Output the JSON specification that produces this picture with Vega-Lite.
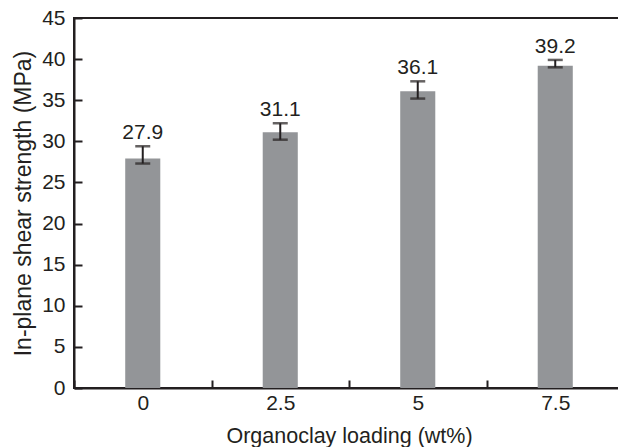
{
  "$schema": "https://vega.github.io/schema/vega-lite/v6.json",
  "autosize": "none",
  "width": 550,
  "height": 370,
  "padding": {"left": 74, "top": 18, "right": 0, "bottom": 59},
  "background": "white",
  "config": {
    "font": "Liberation Sans",
    "view": {"stroke": "#231f20", "strokeWidth": 2},
    "axis": {
      "domainColor": "#231f20",
      "domainWidth": 2,
      "tickColor": "#231f20",
      "tickWidth": 2,
      "labelColor": "#231f20",
      "titleColor": "#231f20",
      "labelFont": "Liberation Sans",
      "titleFont": "Liberation Sans",
      "labelFontSize": 21,
      "titleFontWeight": "normal",
      "grid": false
    }
  },
  "data": {
    "values": [
      {"loading": "0", "strength": 27.9, "lower": 27.3, "upper": 29.4},
      {"loading": "2.5", "strength": 31.1, "lower": 30.2, "upper": 32.2},
      {"loading": "5", "strength": 36.1, "lower": 35.2, "upper": 37.3},
      {"loading": "7.5", "strength": 39.2, "lower": 39.0, "upper": 39.9}
    ]
  },
  "encoding": {
    "x": {
      "field": "loading",
      "type": "ordinal",
      "sort": null,
      "scale": {"paddingInner": 0, "paddingOuter": 0},
      "axis": {
        "title": "Organoclay loading (wt%)",
        "titleFontSize": 21.5,
        "labelAngle": 0,
        "tickBand": "extent",
        "tickSize": -8,
        "labelPadding": 12,
        "titlePadding": 12
      }
    }
  },
  "layer": [
    {
      "mark": {"type": "bar", "color": "#939598", "width": {"band": 0.255}},
      "encoding": {
        "y": {
          "field": "strength",
          "type": "quantitative",
          "scale": {"domain": [0, 45], "nice": false},
          "axis": {
            "title": "In-plane shear strength (MPa)",
            "titleFontSize": 23,
            "values": [0, 5, 10, 15, 20, 25, 30, 35, 40, 45],
            "tickSize": -8,
            "labelPadding": 17,
            "titlePadding": 6
          }
        }
      }
    },
    {
      "mark": {"type": "rule", "color": "#231f20", "strokeWidth": 2},
      "encoding": {
        "y": {"field": "lower", "type": "quantitative"},
        "y2": {"field": "upper"}
      }
    },
    {
      "mark": {"type": "tick", "color": "#231f20", "thickness": 2.5, "size": 15},
      "encoding": {"y": {"field": "lower", "type": "quantitative"}}
    },
    {
      "mark": {"type": "tick", "color": "#231f20", "thickness": 2.5, "size": 15},
      "encoding": {"y": {"field": "upper", "type": "quantitative"}}
    },
    {
      "mark": {"type": "text", "baseline": "alphabetic", "dy": -7, "fontSize": 21, "color": "#231f20", "font": "Liberation Sans"},
      "encoding": {
        "y": {"field": "upper", "type": "quantitative"},
        "text": {"field": "strength", "type": "quantitative", "format": ".1f"}
      }
    }
  ]
}
